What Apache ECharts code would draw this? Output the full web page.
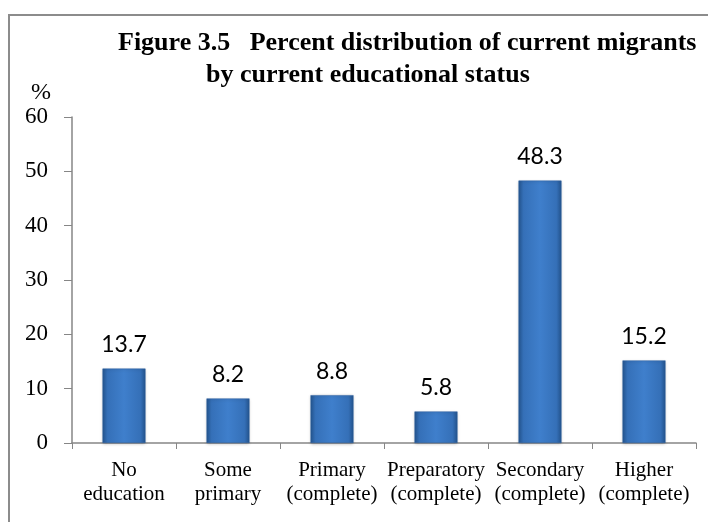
<!DOCTYPE html>
<html>
<head>
<meta charset="utf-8">
<script src="https://cdn.jsdelivr.net/npm/echarts@6/dist/echarts.min.js"></script>
<style>
html,body{margin:0;padding:0;background:#fff;}
#chart{width:708px;height:522px;}
</style>
</head>
<body>
<div id="chart"></div>
<script>
var categories = ["No\neducation", "Some\nprimary", "Primary\n(complete)", "Preparatory\n(complete)", "Secondary\n(complete)", "Higher\n(complete)"];
var values = [13.7, 8.2, 8.8, 5.8, 48.3, 15.2];
var yTicks = {min: 0, max: 60, interval: 10};
var titleLine1 = "Figure 3.5   Percent distribution of current migrants";
var titleLine2 = "by current educational status";
var yUnit = "%";

var chart = echarts.init(document.getElementById('chart'));
var barGrad = new echarts.graphic.LinearGradient(0, 0, 1, 0, [
  {offset: 0, color: '#24558f'},
  {offset: 0.12, color: '#3570b8'},
  {offset: 0.5, color: '#3f7fcc'},
  {offset: 0.88, color: '#3570b8'},
  {offset: 1, color: '#24558f'}
]);
var titleStyle = {
  fontFamily: 'Liberation Serif',
  fontWeight: 'bold',
  fontSize: 26,
  lineHeight: 26,
  color: '#000'
};
chart.setOption({
  animation: false,
  backgroundColor: '#ffffff',
  title: [
    {text: titleLine1, left: 118, top: 30, padding: 0, textStyle: titleStyle},
    {text: titleLine2, left: 206, top: 62, padding: 0, textStyle: titleStyle}
  ],
  graphic: [
    {
      type: 'polyline',
      shape: {points: [[9, 522], [9, 15], [708, 15]]},
      style: {stroke: '#8c8c8c', lineWidth: 2, fill: null},
      silent: true
    },
    {
      type: 'text',
      left: 31,
      top: 81,
      style: {text: yUnit, font: '24px "Liberation Serif"', fill: '#000'}
    }
  ],
  grid: {left: 72, right: 12, top: 117, bottom: 79, containLabel: false},
  xAxis: {
    type: 'category',
    data: categories,
    axisLine: {lineStyle: {color: '#868686', width: 1.5}},
    axisTick: {show: true, length: 6, lineStyle: {color: '#868686'}},
    axisLabel: {
      interval: 0,
      margin: 15,
      fontFamily: 'Liberation Serif',
      fontSize: 21,
      lineHeight: 24,
      color: '#000'
    }
  },
  yAxis: {
    type: 'value',
    min: yTicks.min,
    max: yTicks.max,
    interval: yTicks.interval,
    splitLine: {show: false},
    axisLine: {show: true, lineStyle: {color: '#868686', width: 1.5}},
    axisTick: {show: true, length: 8, lineStyle: {color: '#868686'}},
    axisLabel: {
      margin: 24,
      fontFamily: 'Liberation Serif',
      fontSize: 23,
      color: '#000'
    }
  },
  series: [{
    type: 'bar',
    data: values,
    barWidth: 43,
    itemStyle: {
      color: barGrad,
      borderColor: '#2a5e9e',
      borderWidth: 0.5,
      shadowColor: 'rgba(0,0,0,0.25)',
      shadowBlur: 3,
      shadowOffsetY: 1
    },
    label: {
      show: true,
      position: 'top',
      distance: 12,
      fontFamily: 'Lato',
      fontSize: 23,
      color: '#000',
      formatter: function (p) { return p.value.toFixed(1); }
    }
  }]
});
</script>
</body>
</html>
